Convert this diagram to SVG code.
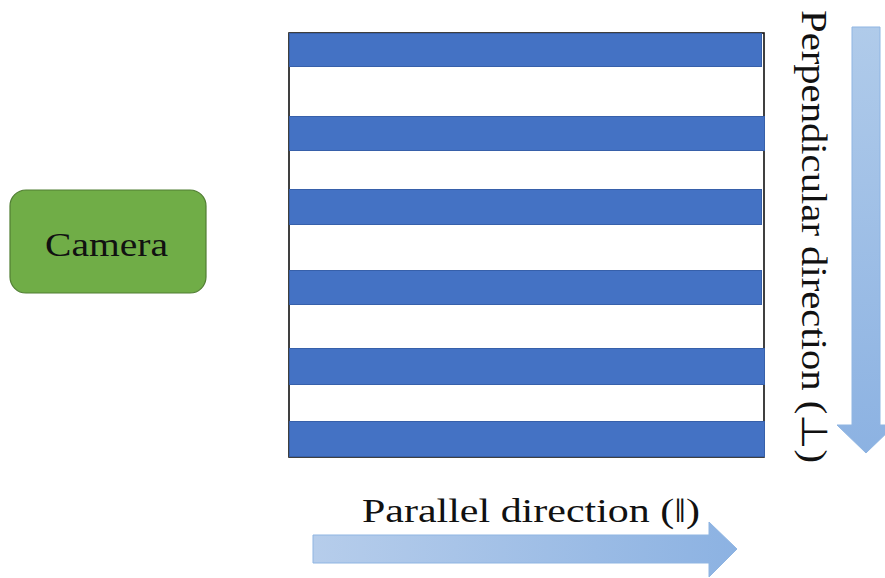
<svg xmlns="http://www.w3.org/2000/svg" width="885" height="578" viewBox="0 0 885 578">
<defs>
<style>
.stripe{fill:#4472c4;stroke:#3760aa;stroke-width:1}
.lbl{font-family:"Liberation Serif","Times New Roman",serif;fill:#111}
.arrow{stroke:#8fb5e2;stroke-width:1}
</style>
<linearGradient id="gh" x1="0" y1="0" x2="1" y2="0">
<stop offset="0" stop-color="#b6cdeb"/>
<stop offset="1" stop-color="#8cb2e2"/>
</linearGradient>
<linearGradient id="gv" x1="0" y1="0" x2="0" y2="1">
<stop offset="0" stop-color="#b0cbea"/>
<stop offset="1" stop-color="#8cb2e2"/>
</linearGradient>
</defs>
<rect width="885" height="578" fill="#ffffff"/>
<g id="camera">
<rect x="10" y="190" width="196" height="103" rx="16" ry="16" fill="#70ad47" stroke="#507e32" stroke-width="1.2"/>
<text class="lbl" x="45" y="256" font-size="34" textLength="123" lengthAdjust="spacingAndGlyphs">Camera</text>
</g>
<g id="grating">
<rect x="289" y="33" width="475" height="424" fill="#ffffff" stroke="#111" stroke-width="1.6"/>
<rect class="stripe" x="289.5" y="33.5" width="472" height="33"/>
<rect class="stripe" x="289.5" y="116.5" width="475" height="34"/>
<rect class="stripe" x="289.5" y="189.5" width="472" height="35"/>
<rect class="stripe" x="289.5" y="270.5" width="472" height="34"/>
<rect class="stripe" x="289.5" y="348.5" width="475" height="36"/>
<rect class="stripe" x="289.5" y="421.5" width="475" height="35"/>
</g>
<g id="connectors">
<path class="arrow" d="M852,27 H880 V425 H895 L866,453 L837,425 H852 Z" fill="url(#gv)"/>
<path class="arrow" d="M313,535 H709 V522 L737,549 L709,577 V563 H313 Z" fill="url(#gh)"/>
</g>
<g id="perp-label">
<text class="lbl" transform="translate(802,10) rotate(90)" x="0" y="0" font-size="36" textLength="453" lengthAdjust="spacingAndGlyphs">Perpendicular direction (⊥)</text>
</g>
<g id="par-label">
<text class="lbl" x="362" y="522" font-size="33" textLength="338" lengthAdjust="spacingAndGlyphs">Parallel direction (‖)</text>
</g>
</svg>
